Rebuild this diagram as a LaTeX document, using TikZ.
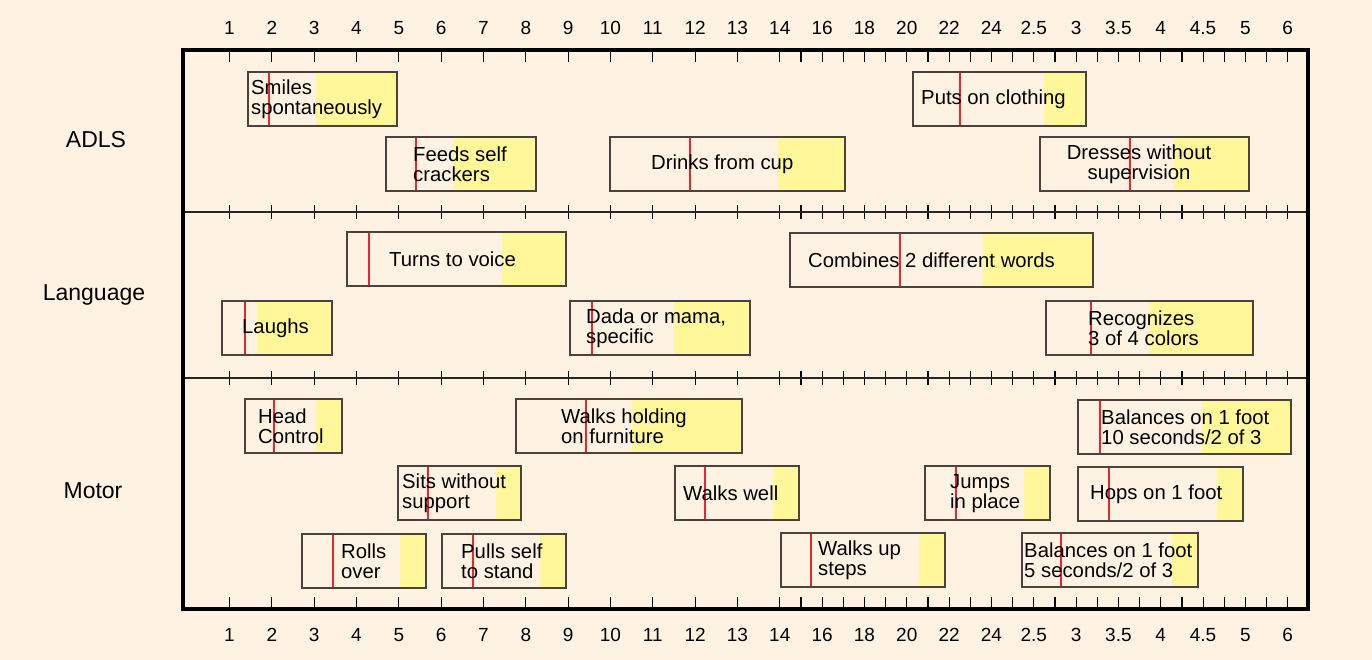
\documentclass[tikz,border=0pt]{standalone}
\usepackage{fontspec}
\setmainfont{Liberation Sans}
\usepackage{tikz}

\definecolor{chartbg}{HTML}{FEF3E2}
\definecolor{chartyellow}{HTML}{FFF799}
\definecolor{chartred}{HTML}{E8262B}
\definecolor{chartline}{HTML}{4A423C}

\tikzset{
	itembox/.style={draw=chartline, line width=1.5pt, inner sep=0pt, outer sep=0pt, anchor=north west},
	itemtext/.style={anchor=west, align=left, inner sep=0pt, font=\fontsize{20.3}{20}\selectfont},
	ticklabel/.style={inner sep=0pt, font=\fontsize{19}{19}\selectfont},
	rowlabel/.style={inner sep=0pt, font=\fontsize{23}{23}\selectfont},
	tickmark/.style={black, line width=1.2pt},
	frameline/.style={black, line width=4pt},
	divider/.style={black!85, line width=2pt}
}

% #1 text options, #2 name, #3 top, #4 left, #5 yellow from, #6 red mark, #7 right, #8 text x, #9 text
\newcommand{\Milestone}[9][]{
	\fill[chartyellow] (#5,#3) rectangle (#7,#3+54);
	\draw[chartred, line width=2.5pt] (#6,#3) -- (#6,#3+54);
	\node[itembox, minimum width={#7-#4}, minimum height=54] (#2) at (#4,#3) {};
	\node[itemtext, #1] (#2-text) at (#8,#3+27.5) {#9};
}

\begin{document}
\begin{tikzpicture}[x=1pt, y=-1pt]
	\fill[chartbg] (0,0) rectangle (1372,660);
	\useasboundingbox (0,0) rectangle (1372,660);

	\node[rowlabel] (adls) at (96,140) {ADLS};
	\node[rowlabel] (language) at (94,295) {Language};
	\node[rowlabel] (motor) at (93,491) {Motor};

	\foreach \lab [count=\i from 0] in {1,2,3,4,5,6,7,8,9,10,11,12,13,14,16,18,20,22,24,2.5,3,3.5,4,4.5,5,6} {
		\node[ticklabel] (top-\i) at ({229.5+42.33*\i},28) {\lab};
		\node[ticklabel] (bottom-\i) at ({229.5+42.33*\i},635) {\lab};
	}

	\Milestone{smiles}{72}{248}{316}{269}{397}{251}{Smiles\\spontaneously}
	\Milestone{clothing}{72}{913}{1044}{960}{1086}{921}{Puts on clothing}
	\Milestone{feeds}{137}{386}{454}{416}{536}{413}{Feeds self\\crackers}
	\Milestone{drinks}{137}{610}{778}{690}{845}{651}{Drinks from cup}
	\Milestone[anchor=center, align=center]{dresses}{137}{1040}{1174}{1130}{1249}{1139}{Dresses without\\supervision}
	\Milestone{voice}{232}{347}{502}{369}{566}{389}{Turns to voice}
	\Milestone{combines}{233}{790}{983}{900}{1093}{808}{Combines 2 different words}
	\Milestone{laughs}{301}{222}{257}{245}{332}{242}{Laughs}
	\Milestone{dada}{301}{570}{674}{592}{750}{586}{Dada or mama,\\specific}
	\Milestone{colors}{301}{1046}{1149}{1091}{1253}{1088}{Recognizes\\3 of 4 colors}
	\Milestone{head}{399}{245}{316}{274}{342}{258}{Head\\Control}
	\Milestone{furniture}{399}{516}{632}{586}{742}{561}{Walks holding\\on furniture}
	\Milestone{balancelong}{400}{1078}{1202}{1100}{1291}{1101}{Balances on 1 foot\\10 seconds/2 of 3}
	\Milestone{sits}{466}{398}{496}{428}{521}{402}{Sits without\\support}
	\Milestone{walkswell}{466}{675}{773}{705}{799}{683}{Walks well}
	\Milestone{jumps}{466}{925}{1024}{956}{1050}{950}{Jumps\\in place}
	\Milestone{hops}{467}{1078}{1217}{1109}{1243}{1090}{Hops on 1 foot}
	\Milestone{rolls}{534}{302}{400}{333}{426}{341}{Rolls\\over}
	\Milestone{pulls}{534}{442}{540}{473}{566}{461}{Pulls self\\to stand}
	\Milestone{steps}{533}{781}{919}{811}{945}{818}{Walks up\\steps}
	\Milestone{balanceshort}{533}{1022}{1172}{1061}{1198}{1024}{Balances on 1 foot\\5 seconds/2 of 3}

	\foreach \i in {0,...,25} {
		\draw[tickmark] ({229.5+42.33*\i},50) -- ++(0,12);
		\draw[tickmark] ({229.5+42.33*\i},609) -- ++(0,-12);
		\draw[tickmark] ({229.5+42.33*\i},205) -- ++(0,14);
		\draw[tickmark] ({229.5+42.33*\i},371) -- ++(0,14);
	}
	\foreach \i in {13,...,24} {
		\draw[tickmark] ({229.5+42.33*(\i+0.5)},50) -- ++(0,12);
		\draw[tickmark] ({229.5+42.33*(\i+0.5)},609) -- ++(0,-12);
		\draw[tickmark] ({229.5+42.33*(\i+0.5)},205) -- ++(0,14);
		\draw[tickmark] ({229.5+42.33*(\i+0.5)},371) -- ++(0,14);
	}

	\draw[divider] (183,212) -- (1308,212);
	\draw[divider] (183,378) -- (1308,378);
	\draw[frameline] (183,50) rectangle (1308,609);
\end{tikzpicture}
\end{document}
